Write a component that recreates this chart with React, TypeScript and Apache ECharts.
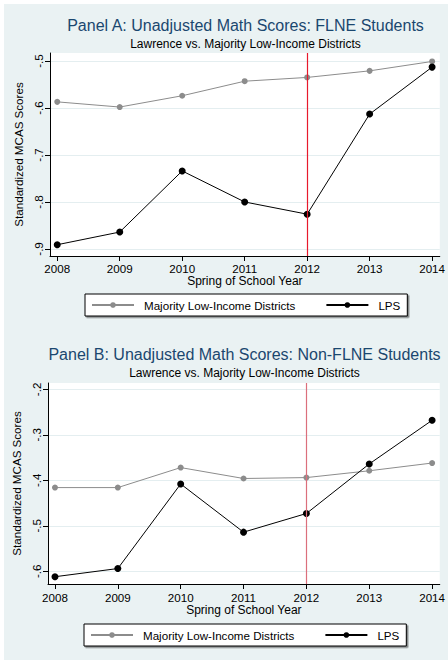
import React, { useEffect, useRef } from "react";
import * as echarts from "echarts";

const years = [2008, 2009, 2010, 2011, 2012, 2013, 2014];
const panelAMajority = [-0.587, -0.598, -0.574, -0.543, -0.535, -0.521, -0.501];
const panelALps = [-0.891, -0.864, -0.734, -0.8, -0.826, -0.613, -0.513];
const panelBMajority = [-0.416, -0.416, -0.372, -0.396, -0.394, -0.379, -0.362];
const panelBLps = [-0.612, -0.594, -0.408, -0.514, -0.473, -0.364, -0.268];
const yTicksA = [-0.9, -0.8, -0.7, -0.6, -0.5];
const yTicksB = [-0.6, -0.5, -0.4, -0.3, -0.2];
const policyYear = 2012;

const titleA = "Panel A: Unadjusted Math Scores: FLNE Students";
const titleB = "Panel B: Unadjusted Math Scores: Non-FLNE Students";
const subtitle = "Lawrence vs. Majority Low-Income Districts";
const yName = "Standardized MCAS Scores";
const xName = "Spring of School Year";
const majName = "Majority Low-Income Districts";
const lpsName = "LPS";

const FONT = '"Liberation Sans", Arial, Helvetica, sans-serif';
const GRAY = "#8c8c8c";
const NAVY = "#1a476f";

function fmtY(v: number) {
  return v.toFixed(1).replace("0.", ".");
}

function makePanel(
  i: number,
  cfg: {
    grid: { left: number; top: number; width: number; height: number };
    xMin: number;
    xMax: number;
    yMin: number;
    yMax: number;
    yTicks: number[];
    maj: number[];
    lps: number[];
    red: string;
    title: string;
    titleY: number;
    subY: number;
    legend: { left: number; top: number };
    xNameGap: number;
    xLabelMargin: number;
  }
) {
  const cx = cfg.grid.left + cfg.grid.width / 2;
  const redStyle = { color: cfg.red, width: 1.2, type: "solid" as const, opacity: 1 };
  return {
    grid: {
      ...cfg.grid,
      show: true,
      backgroundColor: "#fff",
      borderWidth: 0,
      containLabel: false,
    },
    xAxis: {
      type: "value",
      gridIndex: i,
      min: cfg.xMin,
      max: cfg.xMax,
      name: xName,
      nameLocation: "middle",
      nameGap: cfg.xNameGap,
      nameTextStyle: { fontFamily: FONT, fontSize: 12, color: "#000" },
      axisLine: { show: true, lineStyle: { color: "#000", width: 1 } },
      axisTick: {
        show: true,
        length: 5,
        lineStyle: { color: "#000" },
        customValues: years,
      },
      axisLabel: {
        show: true,
        customValues: years,
        margin: cfg.xLabelMargin,
        fontFamily: FONT,
        fontSize: 11.6,
        color: "#000",
        formatter: (v: number) => String(Math.round(v)),
      },
      splitLine: { show: false },
    },
    yAxis: {
      type: "value",
      gridIndex: i,
      min: cfg.yMin,
      max: cfg.yMax,
      name: yName,
      nameLocation: "middle",
      nameRotate: 90,
      nameGap: 19,
      nameTextStyle: { fontFamily: FONT, fontSize: 11.6, color: "#000" },
      axisLine: { show: true, lineStyle: { color: "#000", width: 1 } },
      axisTick: {
        show: true,
        length: 5,
        lineStyle: { color: "#000" },
        customValues: cfg.yTicks,
      },
      axisLabel: {
        show: true,
        customValues: cfg.yTicks,
        rotate: 90,
        margin: 6,
        fontFamily: FONT,
        fontSize: 11.6,
        color: "#000",
        formatter: fmtY,
      },
      splitLine: { show: true, lineStyle: { color: "#e4eef0", width: 1 } },
    },
    series: [
      {
        type: "line",
        name: majName,
        xAxisIndex: i,
        yAxisIndex: i,
        data: years.map((y, k) => [y, cfg.maj[k]]),
        symbol: "circle",
        symbolSize: 6,
        itemStyle: { color: GRAY },
        lineStyle: { color: GRAY, width: 1 },
        z: 3,
        markLine: {
          silent: true,
          symbol: ["none", "none"],
          label: { show: false },
          itemStyle: { color: cfg.red },
          lineStyle: redStyle,
          emphasis: { disabled: true },
          data: [{ xAxis: policyYear, lineStyle: redStyle, itemStyle: { color: cfg.red } }],
        },
      },
      {
        type: "line",
        name: lpsName,
        xAxisIndex: i,
        yAxisIndex: i,
        data: years.map((y, k) => [y, cfg.lps[k]]),
        symbol: "circle",
        symbolSize: 7,
        itemStyle: { color: "#000" },
        lineStyle: { color: "#000", width: 1 },
        z: 4,
      },
    ],
    legend: {
      left: cfg.legend.left,
      top: cfg.legend.top,
      orient: "horizontal",
      selectedMode: false,
      data: [majName, lpsName],
      itemWidth: 42,
      itemHeight: 7,
      itemGap: 30,
      padding: [5, 7, 5, 6],
      backgroundColor: "#fff",
      borderColor: "#000",
      borderWidth: 1,
      borderRadius: 0,
      shadowColor: "rgba(0,0,0,0.45)",
      shadowOffsetX: 1.5,
      shadowOffsetY: 1.5,
      shadowBlur: 0,
      textStyle: {
        fontFamily: FONT,
        fontSize: 11.6,
        color: "#000",
        padding: [0, 0, 0, 5],
      },
    },
    graphic: [
      {
        type: "text",
        x: cx,
        y: cfg.titleY,
        style: {
          text: cfg.title,
          fill: NAVY,
          font: `16px ${FONT}`,
          textAlign: "center",
          textVerticalAlign: "middle",
        },
      },
      {
        type: "text",
        x: cx,
        y: cfg.subY,
        style: {
          text: subtitle,
          fill: "#000",
          font: `12px ${FONT}`,
          textAlign: "center",
          textVerticalAlign: "middle",
        },
      },
    ],
  };
}

export default function App() {
  const ref = useRef<HTMLDivElement>(null);
  useEffect(() => {
    const chart = echarts.init(ref.current!, null, { renderer: "svg" });
    const a = makePanel(0, {
      grid: { left: 50, top: 53, width: 391, height: 203 },
      xMin: 2007.884,
      xMax: 2014.123,
      yMin: -0.915,
      yMax: -0.483,
      yTicks: yTicksA,
      maj: panelAMajority,
      lps: panelALps,
      red: "#e8192c",
      title: titleA,
      titleY: 25,
      subY: 44,
      legend: { left: 85, top: 294 },
      xNameGap: 19,
      xLabelMargin: 6,
    });
    const b = makePanel(1, {
      grid: { left: 48, top: 383, width: 393, height: 201 },
      xMin: 2007.889,
      xMax: 2014.122,
      yMin: -0.628,
      yMax: -0.186,
      yTicks: yTicksB,
      maj: panelBMajority,
      lps: panelBLps,
      red: "#db6f7c",
      title: titleB,
      titleY: 354,
      subY: 373,
      legend: { left: 84, top: 624 },
      xNameGap: 20,
      xLabelMargin: 7,
    });
    chart.setOption({
      animation: false,
      textStyle: { fontFamily: FONT },
      grid: [a.grid, b.grid],
      xAxis: [a.xAxis, b.xAxis],
      yAxis: [a.yAxis, b.yAxis],
      series: [...a.series, ...b.series],
      legend: [a.legend, b.legend],
      graphic: [...a.graphic, ...b.graphic],
    } as any);
    return () => chart.dispose();
  }, []);
  return (
    <div
      ref={ref}
      style={{
        position: "fixed",
        left: 0,
        top: 0,
        width: 448,
        height: 660,
        background: "#eaf2f3",
        boxShadow: "inset 4px 4px 0 0 #fff",
      }}
    />
  );
}
